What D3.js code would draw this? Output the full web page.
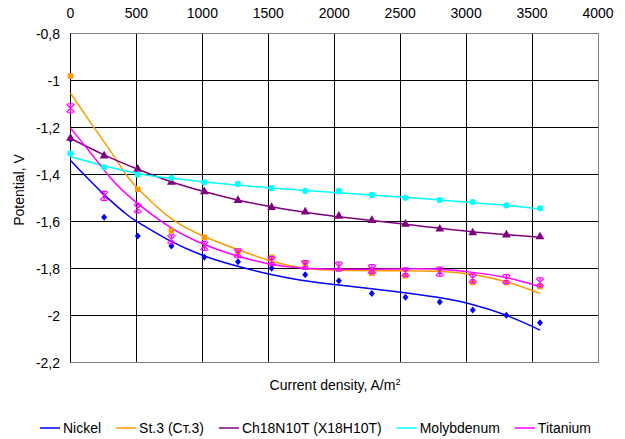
<!DOCTYPE html>
<html>
<head>
<meta charset="utf-8">
<script src="https://cdn.jsdelivr.net/npm/d3@7"></script>
<style>
	body { margin: 0; background: #fff; }
	text { font-family: "Liberation Sans", Arial, sans-serif; fill: #000; }
</style>
</head>
<body>
<svg id="chart" width="625" height="439"></svg>
<script>
// measured points (current density, A/m2)
const density = [0, 255, 510, 765, 1015, 1270, 1525, 1780, 2035, 2285, 2540, 2800, 3050, 3305, 3560];

const nickel = [-1.25, -1.582, -1.662, -1.704, -1.752, -1.771, -1.799, -1.827, -1.852, -1.906, -1.922, -1.943, -1.977, -1.999, -2.031];
const st3 = [-0.981, null, -1.463, -1.640, -1.667, -1.729, -1.752, -1.778, null, -1.820, -1.831, null, -1.859, -1.860, -1.877];
const ch18 = [-1.246, -1.321, -1.377, -1.433, -1.473, -1.510, -1.540, -1.559, -1.577, -1.595, -1.611, -1.632, -1.648, -1.657, -1.665];
const molybdenum = [-1.310, -1.369, -1.400, -1.414, -1.433, -1.440, -1.458, -1.470, -1.470, -1.487, -1.499, -1.509, -1.517, -1.531, -1.544];
const titanium = [-1.118, -1.491, -1.544, -1.676, -1.704, -1.735, -1.768, -1.785, -1.792, -1.803, -1.816, -1.813, -1.842, -1.845, -1.859];

// trend lines as [density, potential]
const nickelTrend = [[0, -1.34], [135, -1.42], [260, -1.49], [451, -1.584], [510, -1.602], [730, -1.679], [1015, -1.75], [1210, -1.782], [1505, -1.826], [1740, -1.85], [1966, -1.866], [2496, -1.899], [2800, -1.923], [3002, -1.944], [3300, -1.994], [3560, -2.062]];
const st3Trend = [[0, -1.054], [173, -1.197], [300, -1.296], [446, -1.424], [510, -1.46], [767, -1.601], [1011, -1.665], [1271, -1.721], [1529, -1.772], [1740, -1.8], [2000, -1.809], [2500, -1.809], [2800, -1.81], [3050, -1.823], [3300, -1.852], [3560, -1.906]];
const ch18Trend = [[0, -1.246], [260, -1.32], [510, -1.378], [765, -1.433], [1011, -1.473], [1271, -1.511], [1529, -1.538], [1739, -1.558], [1966, -1.577], [2496, -1.608], [3002, -1.643], [3560, -1.667]];
const molybdenumTrend = [[0, -1.324], [256, -1.364], [509, -1.398], [765, -1.417], [1011, -1.432], [1271, -1.445], [1529, -1.458], [1739, -1.466], [2035, -1.478], [2496, -1.494], [3002, -1.518], [3305, -1.53], [3560, -1.547]];
const titaniumTrend = [[0, -1.203], [148, -1.303], [299, -1.416], [451, -1.501], [767, -1.636], [1011, -1.70], [1271, -1.75], [1529, -1.785], [1740, -1.8], [2000, -1.804], [2500, -1.802], [2800, -1.80], [3050, -1.816], [3300, -1.835], [3560, -1.877]];

const seriesNames = ['Nickel', 'St.3 (Ст.3)', 'Ch18N10T (X18H10T)', 'Molybdenum', 'Titanium'];
const xTicks = [0, 500, 1000, 1500, 2000, 2500, 3000, 3500, 4000];
const yTicks = [-0.8, -1, -1.2, -1.4, -1.6, -1.8, -2, -2.2];

const colors = ['#0000ff', '#ff9900', '#800080', '#00ffff', '#ff00ff'];
const markers = ['diamond', 'square', 'triangle', 'circle', 'star'];

let svg = d3.select('#chart');
let x = d3.scaleLinear().domain([0, 4000]).range([70.5, 598]);
let y = d3.scaleLinear().domain([-2.2, -0.8]).range([362.5, 33.5]);
const crisp = v => Math.round(v - 0.5) + 0.5;
const fmt = v => String(+v.toFixed(1)).replace('.', ',');
const fontSize = '14px';

// gridlines
let grid = svg.append('g');
grid.selectAll('.hgrid')
	.data(yTicks)
	.enter()
	.append('line')
	.attr('x1', x(0)).attr('x2', x(4000))
	.attr('y1', d => crisp(y(d))).attr('y2', d => crisp(y(d)))
	.style('stroke', '#000');
grid.selectAll('.vgrid')
	.data(xTicks)
	.enter()
	.append('line')
	.attr('x1', d => crisp(x(d))).attr('x2', d => crisp(x(d)))
	.attr('y1', y(-0.8)).attr('y2', y(-2.2))
	.style('stroke', '#000');
// frame
svg.append('rect')
	.attr('x', crisp(x(0))).attr('y', crisp(y(-0.8)))
	.attr('width', crisp(x(4000)) - crisp(x(0)))
	.attr('height', crisp(y(-2.2)) - crisp(y(-0.8)))
	.style('fill', 'none')
	.style('stroke', '#808080');
svg.append('line')
	.attr('x1', crisp(x(0))).attr('x2', crisp(x(0)))
	.attr('y1', y(-0.8)).attr('y2', y(-2.2))
	.style('stroke', '#000');

// tick labels
svg.append('g')
	.selectAll('text')
	.data(xTicks)
	.enter()
	.append('text')
	.attr('x', d => x(d))
	.attr('y', 18)
	.attr('text-anchor', 'middle')
	.style('font-size', fontSize)
	.text(d => d);
svg.append('g')
	.selectAll('text')
	.data(yTicks)
	.enter()
	.append('text')
	.attr('x', 60)
	.attr('y', d => y(d) + 5)
	.attr('text-anchor', 'end')
	.style('font-size', fontSize)
	.text(fmt);

// axis titles
svg.append('text')
	.attr('transform', 'translate(24,190) rotate(-90)')
	.attr('text-anchor', 'middle')
	.style('font-size', fontSize)
	.text('Potential, V');
let xt = svg.append('text')
	.attr('x', 335)
	.attr('y', 390)
	.attr('text-anchor', 'middle')
	.style('font-size', fontSize)
	.text('Current density, A/m');
xt.append('tspan')
	.attr('dy', -5)
	.style('font-size', '9px')
	.text('2');

// trend lines
const trends = [nickelTrend, st3Trend, ch18Trend, molybdenumTrend, titaniumTrend];
let line = d3.line()
	.x(d => x(d[0]))
	.y(d => y(d[1]))
	.curve(d3.curveBasis);
svg.append('g')
	.selectAll('path')
	.data(trends)
	.enter()
	.append('path')
	.attr('d', line)
	.style('fill', 'none')
	.style('stroke', (d, i) => colors[i])
	.style('stroke-width', 1.5);

// markers
const values = [nickel, st3, ch18, molybdenum, titanium];
function markerPath(type) {
	if (type === 'star') {
		return 'M-4,-4L4,4M-4,4L4,-4M0,-4.5V4.5M-3,-4.5H3M-3,4.5H3';
	}
	if (type === 'diamond') {
		return 'M0,-3.5L3,0L0,3.5L-3,0Z';
	}
	const sym = {
		square: d3.symbol(d3.symbolSquare, 30),
		triangle: d3.symbol(d3.symbolTriangle, 34),
		circle: d3.symbol(d3.symbolCircle, 30)
	};
	return sym[type]();
}
values.forEach((vals, i) => {
	let pts = density.map((d, j) => [d, vals[j]]).filter(p => p[1] !== null);
	svg.append('g')
		.selectAll('path')
		.data(pts)
		.enter()
		.append('path')
		.attr('transform', d => `translate(${x(d[0])},${y(d[1])})`)
		.attr('d', markerPath(markers[i]))
		.style('fill', markers[i] === 'star' ? 'none' : colors[i])
		.style('stroke', colors[i])
		.style('stroke-width', markers[i] === 'star' ? 1.2 : 0);
});

// legend
let legend = svg.append('g').attr('transform', 'translate(0,428)');
let items = legend.selectAll('g')
	.data(seriesNames)
	.enter()
	.append('g');
items.append('line')
	.attr('x1', 0).attr('x2', 20)
	.style('stroke', (d, i) => colors[i])
	.style('stroke-width', 1.5);
items.append('text')
	.attr('x', 23)
	.attr('y', 5)
	.style('font-size', fontSize)
	.text(d => d);
let widths = [];
items.each(function () {
	widths.push(23 + d3.select(this).select('text').node().getComputedTextLength());
});
const gap = 15;
let total = d3.sum(widths) + gap * (widths.length - 1);
let pos = 315.5 - total / 2;
items.attr('transform', (d, i) => {
	let t = `translate(${pos},0)`;
	pos += widths[i] + gap;
	return t;
});
</script>
</body>
</html>
